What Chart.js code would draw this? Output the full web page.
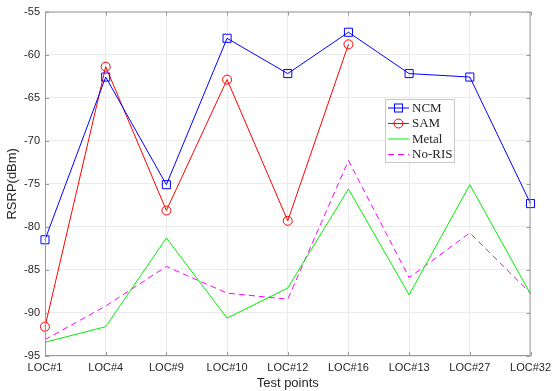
<!DOCTYPE html>
<html>
<head>
<meta charset="utf-8">
<script src="https://cdn.jsdelivr.net/npm/chart.js@4"></script>
<style>
  html, body { margin: 0; padding: 0; background: #fff; }
  #wrap { width: 556px; height: 391px; }
</style>
</head>
<body>
<div id="wrap"><canvas id="chart"></canvas></div>
<script>
// data
const testPoints = ['LOC#1', 'LOC#4', 'LOC#9', 'LOC#10', 'LOC#12', 'LOC#16', 'LOC#13', 'LOC#27', 'LOC#32'];
const ncm   = [-81.5, -62.6, -75.1, -58.1, -62.2, -57.4, -62.2, -62.6, -77.3];
const sam   = [-91.6, -61.4, -78.1, -62.9, -79.3, -58.8, null, null, null];
const metal = [-93.4, -91.6, -81.3, -90.6, -87.1, -75.6, -87.9, -75.1, -87.8];
const noRis = [-93.1, -89.2, -84.6, -87.7, -88.4, -72.3, -85.9, -80.7, -87.7];
const yMin = -95, yMax = -55, yStep = 5;

const tickFont = { family: '"Liberation Sans", Arial, sans-serif', size: 11 };
const textColor = '#262626';

// matlab style box with inner ticks
const boxPlugin = {
  id: 'boxPlugin',
  afterDatasetsDraw(chart) {
    const { ctx, chartArea: a, scales } = chart;
    ctx.save();
    ctx.strokeStyle = '#9a9a9a';
    ctx.lineWidth = 1;
    ctx.strokeRect(a.left + 0.5, a.top + 0.5, a.right - a.left - 1, a.bottom - a.top - 1);
    ctx.beginPath();
    scales.x.ticks.forEach((t, i) => {
      const x = Math.round(scales.x.getPixelForTick(i)) + 0.5;
      ctx.moveTo(x, a.top); ctx.lineTo(x, a.top + 4);
      ctx.moveTo(x, a.bottom); ctx.lineTo(x, a.bottom - 4);
    });
    scales.y.ticks.forEach((t, i) => {
      const y = Math.round(scales.y.getPixelForTick(i)) + 0.5;
      ctx.moveTo(a.left, y); ctx.lineTo(a.left + 4, y);
      ctx.moveTo(a.right, y); ctx.lineTo(a.right - 4, y);
    });
    ctx.stroke();
    ctx.restore();
  }
};

// legend box inside the plot
const legendPlugin = {
  id: 'insideLegend',
  afterDraw(chart) {
    const { ctx } = chart;
    const x0 = 385, y0 = 99, w = 70, h = 64;
    ctx.save();
    ctx.fillStyle = '#fff';
    ctx.fillRect(x0, y0, w, h);
    ctx.strokeStyle = '#c8c8c8';
    ctx.lineWidth = 1;
    ctx.strokeRect(x0 + 0.5, y0 + 0.5, w - 1, h - 1);
    ctx.font = '13px "Liberation Serif", "Times New Roman", serif';
    ctx.textBaseline = 'middle';
    chart.data.datasets.forEach((ds, i) => {
      const y = y0 + 9 + i * 15.5;
      ctx.strokeStyle = ds.borderColor;
      ctx.lineWidth = 1;
      ctx.setLineDash(ds.borderDash || []);
      ctx.beginPath();
      ctx.moveTo(x0 + 3, y); ctx.lineTo(x0 + 24, y);
      ctx.stroke();
      ctx.setLineDash([]);
      if (ds.pointStyle === 'rect') {
        ctx.strokeRect(x0 + 9.5, y - 4, 8, 8);
      } else if (ds.pointStyle === 'circle' && ds.pointRadius > 0) {
        ctx.beginPath(); ctx.arc(x0 + 13.5, y, 4.5, 0, Math.PI * 2); ctx.stroke();
      }
      ctx.fillStyle = textColor;
      ctx.fillText(ds.label, x0 + 27, y + 0.5);
    });
    ctx.restore();
  }
};

new Chart(document.getElementById('chart').getContext('2d'), {
  type: 'line',
  data: {
    labels: testPoints,
    datasets: [
      { label: 'NCM', data: ncm, borderColor: '#0000ff', pointStyle: 'rect', pointRadius: 5.7 },
      { label: 'SAM', data: sam, borderColor: '#ff0000', pointStyle: 'circle', pointRadius: 4.5 },
      { label: 'Metal', data: metal, borderColor: '#00ee00', pointStyle: 'circle', pointRadius: 0 },
      { label: 'No-RIS', data: noRis, borderColor: '#ff00ff', borderDash: [6, 4], pointStyle: 'circle', pointRadius: 0 }
    ].map(d => Object.assign({
      borderWidth: 1,
      pointBorderColor: d.borderColor,
      pointBackgroundColor: 'rgba(0,0,0,0)',
      pointBorderWidth: 1,
      pointHoverRadius: d.pointRadius,
      tension: 0,
      fill: false,
      clip: false
    }, d))
  },
  options: {
    responsive: true,
    maintainAspectRatio: false,
    animation: false,
    events: [],
    layout: { padding: { top: 11, right: 19, left: 0, bottom: 0 } },
    plugins: { legend: { display: false }, tooltip: { enabled: false } },
    scales: {
      x: {
        grid: { color: '#ebebeb', drawTicks: false },
        border: { display: false },
        ticks: { font: tickFont, color: textColor, padding: 5, maxRotation: 0, autoSkip: false },
        title: { display: true, text: 'Test points', font: { family: tickFont.family, size: 13 }, color: textColor, padding: { top: 0, bottom: 0 } },
        afterFit(scale) { scale.height = 35; }
      },
      y: {
        min: yMin, max: yMax,
        grid: { color: '#ebebeb', drawTicks: false },
        border: { display: false },
        ticks: { stepSize: yStep, font: tickFont, color: textColor, padding: 5 },
        title: { display: true, text: 'RSRP(dBm)', font: { family: tickFont.family, size: 13 }, color: textColor, padding: { top: 5, bottom: 0 } },
        afterFit(scale) { scale.width = 45; }
      }
    }
  },
  plugins: [boxPlugin, legendPlugin]
});
</script>
</body>
</html>
